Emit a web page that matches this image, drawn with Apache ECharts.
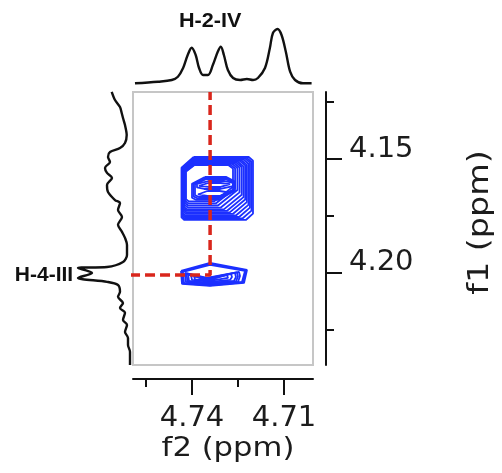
<!DOCTYPE html>
<html>
<head>
<meta charset="utf-8">
<script src="https://cdn.jsdelivr.net/npm/echarts@6/dist/echarts.min.js"></script>
<style>
  html, body { margin: 0; padding: 0; background: #fff; }
  #chart { width: 502px; height: 473px; }
</style>
</head>
<body>
<div id="chart"></div>
<script>
// Axis ranges (ppm)
const f2Range = [4.70054, 4.75924];
const f1Range = [4.1206, 4.2404];

// Tick positions and labels
const f2MajorTicks = [4.74, 4.71];
const f2MinorTicks = [4.755, 4.725];
const f1MajorTicks = [4.15, 4.20];
const f1MinorTicks = [4.125, 4.175, 4.225];
const f2Title = 'f2 (ppm)';
const f1Title = 'f1 (ppm)';

// 1D projection along f2: [f2 ppm, intensity]
const f2Projection = [
  [4.7586, 0.7], [4.7511, 2.3], [4.7466, 4], [4.7446, 7.3], [4.7429, 16], [4.7414, 29],
  [4.7401, 36.3], [4.7388, 29], [4.7377, 16], [4.7364, 9], [4.7348, 9], [4.7332, 19],
  [4.7316, 32.3], [4.7306, 37.3], [4.7296, 29], [4.7283, 14], [4.7266, 6], [4.7243, 4],
  [4.7221, 5], [4.7201, 4], [4.7185, 6], [4.7162, 16], [4.7146, 36], [4.7136, 51],
  [4.7121, 55], [4.7108, 49], [4.7094, 32.3], [4.7080, 12.3], [4.7064, 4], [4.7038, 0.7],
  [4.7010, 0.7]
];

// 1D projection along f1: [intensity, f1 ppm]
const f1Projection = [
  [18.3, 4.1205], [15, 4.1241], [10, 4.1272], [8.3, 4.1298], [7, 4.1320], [5, 4.1351],
  [3.3, 4.1395], [5, 4.1430], [10, 4.1452], [20, 4.1469], [22, 4.1491], [20, 4.1513],
  [25, 4.1539], [23, 4.1561], [18, 4.1583], [23, 4.1614], [22, 4.1645], [15, 4.1680],
  [10, 4.1693], [12, 4.1724], [8, 4.1754], [12, 4.1789], [8, 4.1820], [5, 4.1846],
  [3, 4.1877], [3, 4.1921], [7, 4.1952], [23, 4.1974], [52, 4.1978], [38, 4.2000],
  [52, 4.2022], [23, 4.2039], [12, 4.2053], [10, 4.2083], [12, 4.2105], [7, 4.2132],
  [10, 4.2154], [5, 4.2175], [7, 4.2206], [3, 4.2228], [5, 4.2259], [2, 4.2285],
  [2, 4.2316], [0, 4.2346], [0, 4.2404]
];

// Cross peak at f1 ~4.16: contour levels as
// [f2 left, f2 right, f1 top, f1 bottom, bevel tl, tr, br, bl]
const upperPeakContours = [
  [4.74342, 4.72011, 4.14912, 4.17675, 0.17, 0.06, 0.10, 0.04],
  [4.74330, 4.72060, 4.14945, 4.17610, 0.17, 0.07, 0.13, 0.04],
  [4.74318, 4.72110, 4.14978, 4.17545, 0.17, 0.07, 0.16, 0.04],
  [4.74305, 4.72160, 4.15011, 4.17480, 0.17, 0.08, 0.19, 0.04],
  [4.74293, 4.72212, 4.15044, 4.17412, 0.17, 0.09, 0.22, 0.05],
  [4.74281, 4.72265, 4.15077, 4.17345, 0.17, 0.09, 0.25, 0.05],
  [4.74269, 4.72320, 4.15110, 4.17280, 0.17, 0.10, 0.28, 0.05],
  [4.74257, 4.72380, 4.15143, 4.17210, 0.17, 0.10, 0.31, 0.05],
  [4.74245, 4.72450, 4.15175, 4.17130, 0.17, 0.10, 0.34, 0.06],
  [4.74230, 4.72520, 4.15210, 4.17040, 0.18, 0.10, 0.37, 0.06],
  [4.74212, 4.72595, 4.15240, 4.16950, 0.18, 0.10, 0.39, 0.06],
  [4.74196, 4.72663, 4.15263, 4.16860, 0.18, 0.10, 0.40, 0.06],
  [4.74000, 4.72598, 4.15789, 4.16798, 0.30, 0.20, 0.40, 0.10],
  [4.73950, 4.72630, 4.15833, 4.16730, 0.30, 0.20, 0.40, 0.10],
  [4.73902, 4.72663, 4.15877, 4.16667, 0.30, 0.20, 0.40, 0.10],
  [4.73837, 4.72663, 4.15965, 4.16316, 0.35, 0.25, 0.35, 0.20],
  [4.73772, 4.72761, 4.16053, 4.16228, 0.30, 0.30, 0.30, 0.30],
  [4.73804, 4.72793, 4.16404, 4.16623, 0.30, 0.30, 0.30, 0.30]
];

// Cross peak at f1 ~4.20: contour outlines as [f2, f1] vertices
const lowerPeakContours = [
  [[4.74359, 4.19912], [4.73413, 4.19561], [4.72207, 4.19868], [4.72304, 4.20439], [4.73413, 4.20570], [4.74326, 4.20482]],
  [[4.74326, 4.19934], [4.73413, 4.19605], [4.72240, 4.19890], [4.72337, 4.20417], [4.73413, 4.20548], [4.74293, 4.20460]],
  [[4.74293, 4.19956], [4.73413, 4.19649], [4.72272, 4.19912], [4.72370, 4.20395], [4.73413, 4.20526], [4.74261, 4.20439]],
  [[4.74228, 4.20000], [4.73511, 4.20219], [4.72467, 4.19956], [4.72435, 4.20132], [4.72500, 4.20395], [4.73413, 4.20482], [4.74196, 4.20395]],
  [[4.74180, 4.20022], [4.73511, 4.20241], [4.72532, 4.19978], [4.72500, 4.20154], [4.72565, 4.20373], [4.73413, 4.20460], [4.74147, 4.20373]],
  [[4.74130, 4.20044], [4.73511, 4.20263], [4.72598, 4.20000], [4.72565, 4.20175], [4.72630, 4.20351], [4.73413, 4.20439], [4.74098, 4.20351]],
  [[4.74033, 4.20088], [4.73511, 4.20307], [4.72728, 4.20044], [4.72696, 4.20175], [4.72761, 4.20307], [4.73413, 4.20395], [4.74000, 4.20307]],
  [[4.73935, 4.20132], [4.73511, 4.20329], [4.72859, 4.20088], [4.72826, 4.20219], [4.73413, 4.20351], [4.73902, 4.20285]]
];

// Assignment guide lines
const crossF2 = 4.7341;
const crossF1 = 4.2009;
const guideStartF2 = 4.7651;
const f2Assignment = 'H-2-IV';
const f1Assignment = 'H-4-III';

function bevelledBox(r) {
  const [L, R, T, B, tl, tr, br, bl] = r;
  const w = R - L, h = B - T;
  const pts = [
    [L + tl * w, T], [R - tr * w, T], [R, T + tr * h], [R, B - br * h],
    [R - br * w, B], [L + bl * w, B], [L, B - bl * h], [L, T + tl * h]
  ];
  pts.push(pts[0]);
  return pts;
}
function closed(pts) { return pts.concat([pts[0]]); }

const contourColor = '#1c30ff';
const textColor = '#1c1c1c';
const labelFont = 'DejaVu Sans';

const contourSeries = upperPeakContours.map(bevelledBox)
  .concat(lowerPeakContours.map(closed))
  .map(pts => ({
    type: 'line', xAxisIndex: 0, yAxisIndex: 0, data: pts,
    showSymbol: false, symbol: 'none', silent: true, z: 3,
    lineStyle: { color: contourColor, width: 1.8 }
  }));

const chart = echarts.init(document.getElementById('chart'), null, { renderer: 'canvas' });

const hiddenAxis = {
  axisLine: { show: false }, axisTick: { show: false },
  axisLabel: { show: false }, splitLine: { show: false }
};

chart.setOption({
  animation: false,
  backgroundColor: '#fff',
  grid: [
    { left: 133, top: 92, width: 180, height: 273, show: true,
      borderColor: '#c6c6c6', borderWidth: 2, backgroundColor: 'transparent' },
    { left: 133, top: 24, width: 180, height: 60 },
    { left: 60, top: 92, width: 70, height: 273 }
  ],
  xAxis: [
    { type: 'value', gridIndex: 0, min: f2Range[0], max: f2Range[1], inverse: true,
      position: 'bottom', offset: 14,
      axisLine: { show: true, lineStyle: { color: '#111', width: 2 } },
      axisTick: { show: true, length: 16, customValues: f2MajorTicks, lineStyle: { color: '#111', width: 2 } },
      axisLabel: { show: true, customValues: f2MajorTicks, margin: 25, color: textColor,
        fontFamily: labelFont, fontSize: 29, formatter: v => v.toFixed(2) },
      splitLine: { show: false } },
    { type: 'value', gridIndex: 0, min: f2Range[0], max: f2Range[1], inverse: true,
      position: 'bottom', offset: 14,
      axisLine: { show: false },
      axisTick: { show: true, length: 8, customValues: f2MinorTicks, lineStyle: { color: '#111', width: 2 } },
      axisLabel: { show: false }, splitLine: { show: false } },
    Object.assign({ type: 'value', gridIndex: 1, min: f2Range[0], max: f2Range[1], inverse: true }, hiddenAxis),
    Object.assign({ type: 'value', gridIndex: 2, min: 0, max: 70, inverse: true }, hiddenAxis)
  ],
  yAxis: [
    { type: 'value', gridIndex: 0, min: f1Range[0], max: f1Range[1], inverse: true,
      position: 'right', offset: 13,
      axisLine: { show: true, lineStyle: { color: '#111', width: 2 } },
      axisTick: { show: true, length: 16, customValues: f1MajorTicks, lineStyle: { color: '#111', width: 2 } },
      axisLabel: { show: true, customValues: f1MajorTicks, margin: 23, color: textColor,
        fontFamily: labelFont, fontSize: 29, verticalAlign: 'bottom', lineHeight: 20,
        formatter: v => v.toFixed(2) },
      splitLine: { show: false } },
    { type: 'value', gridIndex: 0, min: f1Range[0], max: f1Range[1], inverse: true,
      position: 'right', offset: 13,
      axisLine: { show: false },
      axisTick: { show: true, length: 8, customValues: f1MinorTicks, lineStyle: { color: '#111', width: 2 } },
      axisLabel: { show: false }, splitLine: { show: false } },
    Object.assign({ type: 'value', gridIndex: 1, min: 0, max: 60 }, hiddenAxis),
    Object.assign({ type: 'value', gridIndex: 2, min: f1Range[0], max: f1Range[1], inverse: true }, hiddenAxis)
  ],
  series: contourSeries.concat([
    { type: 'line', xAxisIndex: 2, yAxisIndex: 2, data: f2Projection, smooth: 0.35,
      showSymbol: false, symbol: 'none', silent: true, clip: false,
      lineStyle: { color: '#111', width: 2.4 } },
    { type: 'line', xAxisIndex: 3, yAxisIndex: 3, data: f1Projection, smooth: 0.3,
      showSymbol: false, symbol: 'none', silent: true, clip: false,
      lineStyle: { color: '#111', width: 2.4 } },
    { type: 'line', xAxisIndex: 0, yAxisIndex: 0, z: 5, clip: false,
      data: [[guideStartF2, crossF1], [crossF2, crossF1], [crossF2, f1Range[0]]],
      showSymbol: false, symbol: 'none', silent: true,
      lineStyle: { color: '#d9261c', width: 3.5, type: [10, 5] } }
  ])
});

// Axis titles and assignment labels, placed from the axes' own pixel mapping.
const gridRect = chart.getModel().getComponent('grid', 0).coordinateSystem.getRect();
const topPos = chart.convertToPixel({ xAxisIndex: 2, yAxisIndex: 2 }, [crossF2, 63]);
const sidePos = chart.convertToPixel({ xAxisIndex: 3, yAxisIndex: 3 }, [86, crossF1]);
const assignStyle = { fontFamily: 'Liberation Sans', fontWeight: 'bold', fontSize: 20,
  fill: '#111', align: 'center', verticalAlign: 'middle' };
const titleStyle = { fontFamily: labelFont, fill: textColor, align: 'center', verticalAlign: 'middle' };
chart.setOption({
  graphic: [
    { type: 'text', x: topPos[0], y: topPos[1], scaleX: 1.08, silent: true,
      style: Object.assign({ text: f2Assignment }, assignStyle) },
    { type: 'text', x: sidePos[0], y: sidePos[1], scaleX: 1.05, silent: true,
      style: Object.assign({ text: f1Assignment }, assignStyle) },
    { type: 'text', x: gridRect.x + gridRect.width / 2 + 5, y: gridRect.y + gridRect.height + 84,
      scaleX: 1.18, silent: true,
      style: Object.assign({ text: f2Title, fontSize: 26 }, titleStyle) },
    { type: 'text', x: gridRect.x + gridRect.width + 167, y: gridRect.y + gridRect.height / 2 - 6,
      rotation: Math.PI / 2, scaleX: 1.15, silent: true,
      style: Object.assign({ text: f1Title, fontSize: 29 }, titleStyle) }
  ]
});
</script>
</body>
</html>
